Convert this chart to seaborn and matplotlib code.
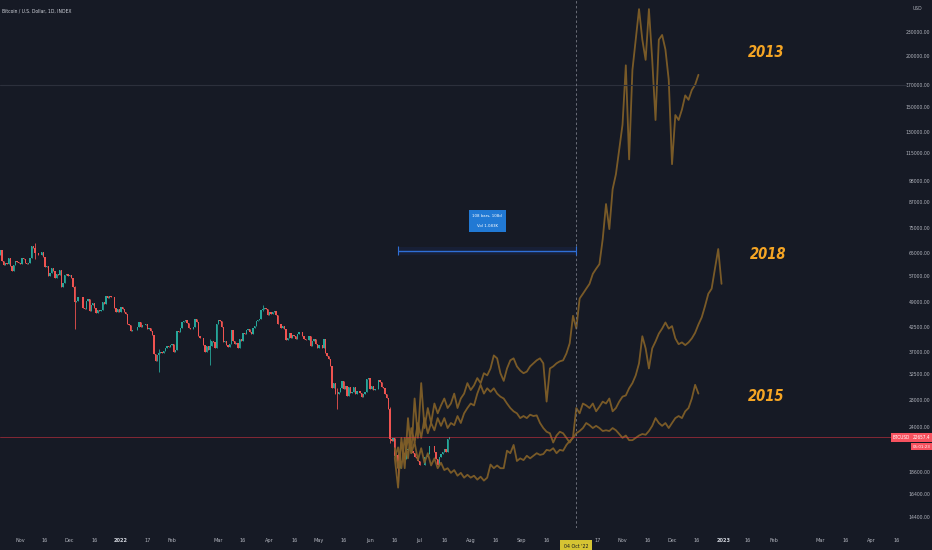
import numpy as np
import pandas as pd
import matplotlib
matplotlib.use("Agg")
import matplotlib.pyplot as plt
import matplotlib.transforms as mtransforms
from matplotlib import font_manager
import seaborn as sns

# ---------------- data ----------------
btc_start = "2021-10-20"
btc_first_open = 64.3  # thousands USD
btc_close = [
    65.99, 62.21, 60.69, 61.39, 60.93, 63.04, 60.36, 58.48, 60.62, 62.23, 61.89, 61.32,
    61.0, 63.2, 62.9, 61.4, 61.0, 61.5, 63.3, 67.5, 66.9, 64.9, 64.9, 64.2, 64.4, 65.5, 63.6,
    60.1, 60.4, 56.9, 58.1, 59.8, 58.7, 56.3, 57.6, 57.2, 58.9, 53.6, 54.8, 57.3, 57.8, 57.0,
    57.2, 56.5, 53.6, 49.2, 49.4, 50.6, 50.5, 50.6, 47.6, 47.1, 49.4, 50.1, 46.7, 48.4, 48.9,
    47.6, 46.2, 46.8, 46.7, 46.9, 49.0, 48.6, 50.8, 50.4, 50.8, 50.6, 50.6, 47.6, 46.5, 47.1, 46.3,
    47.7, 47.3, 46.4, 45.8, 43.4, 43.1, 41.6, 41.8, 41.9, 41.8, 42.7, 43.9, 42.6, 43.1, 43.1,
    43.2, 42.2, 42.4, 41.7, 40.7, 36.5, 35.1, 36.3, 36.7, 36.9, 36.8, 37.2, 37.7, 38.2, 37.9, 38.5,
    38.7, 36.9, 37.3, 41.6, 41.4, 42.4, 43.8, 44.1, 44.3, 43.6, 42.4, 42.2, 42.1, 42.5,
    44.5, 43.9, 40.5, 40.0, 40.1, 38.4, 37.0, 38.2, 37.3, 38.3, 39.2, 39.1, 37.7, 43.2,
    44.4, 44.0, 42.5, 39.1, 39.4, 38.4, 38.0, 38.7, 41.9, 39.4, 38.7, 38.8, 37.8, 39.7, 39.3,
    41.1, 40.9, 41.8, 42.2, 41.3, 41.0, 42.4, 42.9, 44.0, 44.3, 44.5, 46.8, 47.1, 47.5, 47.1, 45.5,
    46.3, 45.8, 46.4, 46.6, 45.5, 43.2, 43.4, 42.3, 42.8, 42.2, 39.5, 40.1, 41.1, 39.9, 40.6,
    40.4, 39.7, 40.8, 41.5, 41.4, 40.5, 39.7, 39.5, 39.5, 40.4, 38.1, 39.2, 39.7, 38.6, 37.7,
    38.5, 38.5, 37.7, 39.7, 36.6, 36.0, 35.5, 34.1, 30.1, 31.0, 29.1, 29.0, 29.3, 30.1, 31.3,
    29.9, 30.4, 28.7, 30.3, 29.2, 29.4, 30.3, 29.1, 29.6, 29.5, 29.2, 28.6, 29.0, 29.4, 31.7, 31.8,
    29.8, 30.4, 29.7, 29.9, 29.9, 31.4, 31.1, 30.2, 30.1, 29.1, 28.4, 26.6, 22.5, 22.2, 22.6,
    20.4, 20.5, 19.0, 20.6, 20.6, 20.7, 20.0, 21.1, 21.2, 21.5, 21.0, 20.7, 20.3, 20.1, 19.8,
    19.3, 19.3, 19.3, 20.2, 20.2, 20.6, 21.6, 21.6, 21.6, 20.9, 20.0, 19.3, 20.2, 20.6, 20.8,
    21.2, 20.8, 22.4, 22.6574,
]
# notable wicks (low, high), thousands USD
btc_wicks = {
    "2021-11-10": (62.8, 69.0),
    "2021-12-04": (42.0, 53.9),
    "2022-01-24": (33.0, 37.5),
    "2022-02-24": (34.3, 39.8),
    "2022-03-28": (46.7, 48.2),
    "2022-05-12": (26.7, 30.0),
    "2022-06-13": (22.0, 26.9),
    "2022-06-18": (17.6, 20.7),
}

# fractal overlays, one value every 2 days from fractal_start (thousands USD)
fractal_start = "2022-06-16"
fractal_2013 = [
    20.1, 17.0, 22.6, 19.0, 25.3, 20.7, 28.3, 22.6, 30.9, 23.9,
    26.8, 24.6, 27.5, 26.0, 27.2, 28.3, 26.8, 27.5, 29.1, 26.8,
    28.3, 29.1, 30.9, 29.7, 30.5, 31.8, 30.9, 32.7, 32.3, 33.6,
    36.2, 35.6, 32.7, 31.3, 33.6, 35.2, 35.6, 34.0, 33.2, 32.7,
    33.0, 34.0, 34.6, 35.2, 35.6, 34.6, 27.8, 33.6, 34.0, 34.6,
    35.0, 35.2, 36.6, 38.8, 45.4, 42.2, 50.1, 51.5, 53.0, 54.5,
    57.7, 59.4, 61.0, 70.4, 86.0, 74.5, 93.6, 102, 117.5, 135.4,
    190, 111, 185, 220, 262, 220, 196, 262, 196, 139,
    220, 226, 208, 175, 108, 143, 139, 147.5, 160, 156,
    165, 170, 180,
]
fractal_2018 = [
    20.2, 21.4, 19.0, 22.6, 20.1, 23.9, 22.0, 24.6, 22.6, 25.3,
    23.2, 24.6, 23.6, 25.3, 24.2, 25.3, 23.9, 24.6, 24.3, 25.6,
    24.6, 26.0, 26.8, 27.5, 27.2, 29.1, 30.6, 29.1, 30.0, 29.4,
    30.0, 29.1, 28.6, 28.3, 27.5, 26.8, 26.3, 26.0, 25.3, 25.6,
    25.3, 25.8, 25.6, 25.7, 24.6, 23.9, 23.4, 23.2, 22.0, 22.9,
    23.4, 23.2, 22.6, 22.0, 22.7, 26.8, 26.0, 27.5, 27.2, 26.8,
    27.5, 26.3, 27.0, 27.8, 27.5, 28.3, 26.3, 26.8, 27.8, 28.6,
    28.8, 30.0, 30.9, 32.3, 34.6, 40.4, 37.7, 33.6, 37.7, 39.2,
    41.0, 42.2, 43.7, 42.2, 42.8, 39.9, 38.6, 39.0, 38.4, 39.0,
    39.9, 41.2, 43.2, 45.0, 48.0, 51.5, 53.0, 59.4, 66.5, 54.5,
]
fractal_2015 = [
    21.3, 19.0, 22.0, 20.1, 22.6, 20.7, 22.0, 19.9, 21.3, 19.6,
    20.7, 19.3, 20.1, 19.0, 19.6, 18.8, 19.0, 18.5, 18.8, 18.2,
    18.5, 18.0, 18.3, 18.0, 18.2, 17.8, 18.1, 17.7, 18.0, 19.4,
    19.0, 19.3, 19.0, 19.0, 21.0, 20.7, 21.7, 19.8, 20.1, 19.9,
    20.4, 20.1, 20.4, 20.7, 20.5, 20.6, 21.1, 21.0, 21.3, 20.7,
    21.1, 21.0, 21.7, 22.2, 22.6, 23.2, 23.5, 23.9, 24.6, 24.3,
    23.9, 24.2, 23.9, 23.5, 23.6, 23.5, 23.9, 23.6, 23.1, 22.6,
    22.9, 22.3, 22.3, 22.6, 22.9, 23.1, 23.0, 23.5, 24.2, 25.3,
    24.6, 24.2, 24.6, 23.9, 24.6, 25.3, 25.6, 25.3, 26.3, 26.8,
    28.3, 30.6, 29.1,
]

y_ticks = [230000, 200000, 170000, 150000, 130000, 115000, 98000, 87000, 75000,
           65000, 57000, 49000, 42500, 37000, 32500, 28000, 24000, 18600, 16400, 14400]
x_tick_dates = ["2021-11-01", "2021-11-16", "2021-12-01", "2021-12-16", "2022-01-01",
                "2022-01-17", "2022-02-01", "2022-03-01", "2022-03-16", "2022-04-01",
                "2022-04-16", "2022-05-01", "2022-05-16", "2022-06-01", "2022-06-16",
                "2022-07-01", "2022-07-16", "2022-08-01", "2022-08-16", "2022-09-01",
                "2022-09-16", "2022-10-17", "2022-11-01", "2022-11-16", "2022-12-01",
                "2022-12-16", "2023-01-01", "2023-01-16", "2023-02-01", "2023-03-01",
                "2023-03-16", "2023-04-01", "2023-04-16"]
x_tick_labels = ["Nov", "16", "Dec", "16", "2022", "17", "Feb", "Mar", "16", "Apr",
                 "16", "May", "16", "Jun", "16", "Jul", "16", "Aug", "16", "Sep",
                 "16", "17", "Nov", "16", "Dec", "16", "2023", "16", "Feb", "Mar",
                 "16", "Apr", "16"]

crosshair_date = "2022-10-04"
measure_start, measure_end, measure_level = "2022-06-18", "2022-10-04", 65900
marked_level = 170000

# ---------------- style ----------------
BG = "#161a25"
TXT = "#b2b5be"
UP, DOWN = "#26a69a", "#ef5350"
FRACTAL = "#7f5e28"

sns.set_theme(style="dark", rc={"axes.facecolor": BG, "figure.facecolor": BG,
                                "axes.grid": False})
fonts = font_manager.fontManager.ttflist
names = {f.name for f in fonts}
has_cond = any(f.name == "DejaVu Sans" and "condensed" in str(f.stretch) for f in fonts)
if "Liberation Sans Narrow" in names:
    plt.rcParams["font.family"] = ["Liberation Sans Narrow", "DejaVu Sans"]
else:
    plt.rcParams["font.family"] = ["DejaVu Sans"]
    if has_cond:
        plt.rcParams["font.stretch"] = "condensed"

fig = plt.figure(figsize=(9.32, 5.5), dpi=100)
ax = fig.add_axes([0, 22 / 550, 908 / 932, 528 / 550])
ax.set_facecolor(BG)
for s in ax.spines.values():
    s.set_visible(False)
ax.set_yscale("log")

# ---------------- candles ----------------
close = np.array(btc_close) * 1000
dates = pd.date_range(btc_start, periods=len(close), freq="D")
opens = np.concatenate([[btc_first_open * 1000], close[:-1]])
body_lo = np.minimum(opens, close)
highs = np.maximum(opens, close)
lows = body_lo.copy()
for d, (lo, hi) in btc_wicks.items():
    i = dates.get_loc(pd.Timestamp(d))
    lows[i] = min(lows[i], lo * 1000)
    highs[i] = max(highs[i], hi * 1000)
colors = np.where(close >= opens, UP, DOWN)

ax.vlines(dates, lows, highs, colors=colors, linewidth=0.6)
ax.bar(dates, np.abs(close - opens), bottom=body_lo, width=0.8, color=colors, linewidth=0)

# ---------------- fractal overlays ----------------
for vals in (fractal_2015, fractal_2018, fractal_2013):
    fd = pd.date_range(fractal_start, periods=len(vals), freq="2D")
    sns.lineplot(x=fd, y=np.array(vals) * 1000, ax=ax, color=FRACTAL,
                 linewidth=1.3, alpha=0.95, legend=False)

for label, d, p in (("2013", "2023-01-27", 205000), ("2018", "2023-01-28", 64500),
                    ("2015", "2023-01-27", 28700)):
    ax.text(pd.Timestamp(d), p, label, color="#f5a524", fontsize=10.5,
            fontweight="bold", fontstyle="italic", ha="center", va="center")

# ---------------- lines & tools ----------------
ax.axhline(marked_level, color="#2c303c", linewidth=0.8)
ax.axhline(close[-1], color="#f23645", linewidth=0.7, alpha=0.5)
ax.axvline(pd.Timestamp(crosshair_date), color="#6a6d78", linewidth=0.7,
           linestyle=(0, (2.5, 2.5)))

ms, me = pd.Timestamp(measure_start), pd.Timestamp(measure_end)
ax.fill_between([ms, me], measure_level * 0.975, measure_level * 1.02,
                color="#2962ff", alpha=0.08, linewidth=0)
ax.hlines(measure_level, ms, me, color="#2f6fd6", linewidth=1.0)
ax.vlines([ms, me], measure_level * 0.975, measure_level * 1.025,
          color="#2f6fd6", linewidth=0.8)
ax.text(ms + (me - ms) / 2, 78000, "108 bars, 108d\nVol 1.083K", ha="center",
        va="center", fontsize=3.2, color="white", linespacing=3.2,
        bbox=dict(boxstyle="square,pad=0.8", fc="#2179d4", ec="none"))

# ---------------- axes ----------------
ax.set_xlim(pd.Timestamp("2021-10-19 18:00"), pd.Timestamp("2023-04-23"))
ax.set_ylim(13500, 276000)

ax.yaxis.tick_right()
ax.yaxis.set_minor_locator(matplotlib.ticker.NullLocator())
ax.set_yticks(y_ticks)
ax.set_yticklabels([f"{v:.2f}" for v in y_ticks])
ax.tick_params(axis="y", length=0, pad=16.2, labelsize=3.7, labelcolor=TXT)
for t in ax.get_yticklabels():
    t.set_horizontalalignment("right")

ax.set_xticks(pd.to_datetime(x_tick_dates))
ax.set_xticklabels(x_tick_labels)
ax.tick_params(axis="x", length=0, pad=7.5, labelsize=4.0, labelcolor=TXT)
for t in ax.get_xticklabels():
    if t.get_text() in ("2022", "2023"):
        t.set_fontweight("bold")
        t.set_color("#d1d4dc")
ax.set_xlabel("")
ax.set_ylabel("")

ax_y = mtransforms.blended_transform_factory(ax.transAxes, ax.transData)
tag = dict(boxstyle="square,pad=0.35", fc="#f7525f", ec="none")
ax.annotate(f"{close[-1]:.1f}", xy=(1, close[-1]), xycoords=ax_y, xytext=(3.2, 0),
            textcoords="offset points", ha="left", va="center", fontsize=3.4,
            color="white", annotation_clip=False, bbox=tag)
ax.annotate("05:01:23", xy=(1, close[-1]), xycoords=ax_y, xytext=(3.6, -6.8),
            textcoords="offset points", ha="left", va="center", fontsize=3.2,
            color="white", annotation_clip=False, bbox=tag)
ax.annotate("BTCUSD", xy=(1, close[-1]), xycoords=ax_y, xytext=(1.2, 0),
            textcoords="offset points", ha="right", va="center", fontsize=3.4,
            color="white", annotation_clip=False, bbox=tag)

ax_x = mtransforms.blended_transform_factory(ax.transData, ax.transAxes)
ax.text(pd.Timestamp(crosshair_date), -18 / 528, "04 Oct '22", transform=ax_x,
        ha="center", va="center", fontsize=3.8, color="#131722", clip_on=False,
        bbox=dict(boxstyle="square,pad=0.7", fc="#d5c433", ec="none"))

fig.text(2 / 932, 1 - 11 / 550, "Bitcoin / U.S. Dollar, 1D, INDEX", fontsize=3.6,
         color="#d1d4dc", va="center", ha="left")
fig.text(913 / 932, 1 - 9 / 550, "USD", fontsize=3.6, color=TXT, va="center", ha="left")

fig.savefig("out.png", dpi=100, facecolor=BG)
